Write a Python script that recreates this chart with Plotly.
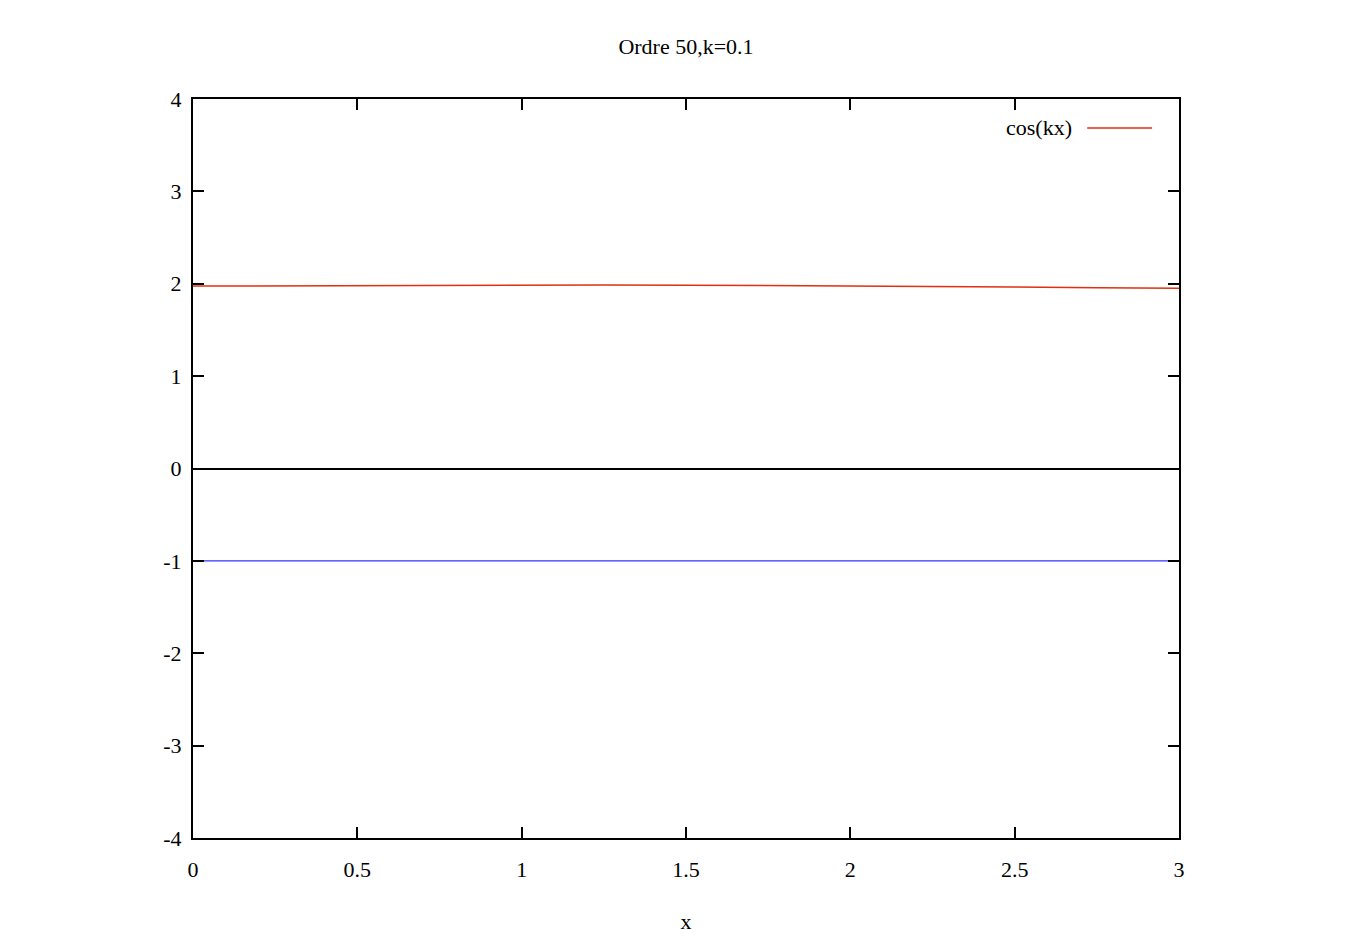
import plotly.graph_objects as go

# Data
x_vals = [0, 0.25, 0.5, 0.75, 1.0, 1.25, 1.5, 1.75, 2.0, 2.25, 2.5, 2.75, 3.0]
cos_kx = [1.975, 1.979, 1.983, 1.986, 1.987, 1.987, 1.985, 1.982, 1.978, 1.973, 1.966, 1.958, 1.950]
approx = [-1.0, -1.0, -1.0, -1.0, -1.0, -1.0, -1.0, -1.0, -1.0, -1.0, -1.0, -1.0, -1.0]

x_ticks = [0, 0.5, 1, 1.5, 2, 2.5, 3]
x_tick_text = ["0", "0.5", "1", "1.5", "2", "2.5", "3"]
y_ticks = [-4, -3, -2, -1, 0, 1, 2, 3, 4]
y_tick_text = ["-4", "-3", "-2", "-1", "0", "1", "2", "3", "4"]

title_text = "Ordre 50,k=0.1"
legend_label = "cos(kx)"

FONT = "Liberation Serif"
FS = 22

fig = go.Figure()
fig.add_trace(go.Scatter(x=x_vals, y=approx, mode="lines",
                         line=dict(color="#3333ff", width=1.3), showlegend=False))
fig.add_trace(go.Scatter(x=x_vals, y=cos_kx, mode="lines", name=legend_label,
                         line=dict(color="#e03010", width=1.5), showlegend=False))

# gnuplot-style legend: label then line sample to its right
fig.add_annotation(x=0.894, y=0.9608, xref="paper", yref="paper", text=legend_label,
                   showarrow=False, xanchor="right", yanchor="middle",
                   font=dict(family=FONT, size=FS, color="black"))
fig.add_shape(type="line", xref="paper", yref="paper", x0=0.9069, x1=0.9727,
              y0=0.9608, y1=0.9608, line=dict(color="#e03010", width=1.5))

axis_common = dict(showline=True, linecolor="black", linewidth=2, mirror="ticks",
                   ticks="inside", ticklen=11, tickwidth=1.5, tickcolor="black",
                   showgrid=False, tickfont=dict(family=FONT, size=FS, color="black"))

fig.update_layout(
    width=1351, height=948,
    paper_bgcolor="white", plot_bgcolor="white",
    margin=dict(l=185, r=180, t=91, b=118),
    title=dict(text=title_text, x=678 / 1351, xanchor="center",
               y=1 - 38 / 948, yanchor="middle",
               font=dict(family=FONT, size=FS, color="black")),
    xaxis=dict(range=[0, 3], tickvals=x_ticks, ticktext=x_tick_text,
               zeroline=False, ticklabelstandoff=11,
               title=dict(text="x", font=dict(family=FONT, size=FS, color="black"), standoff=32),
               **axis_common),
    yaxis=dict(range=[-4, 4], tickvals=y_ticks, ticktext=y_tick_text,
               zeroline=True, zerolinecolor="black", zerolinewidth=2,
               ticklabelstandoff=5, **axis_common),
)

fig.write_html("out.html")
